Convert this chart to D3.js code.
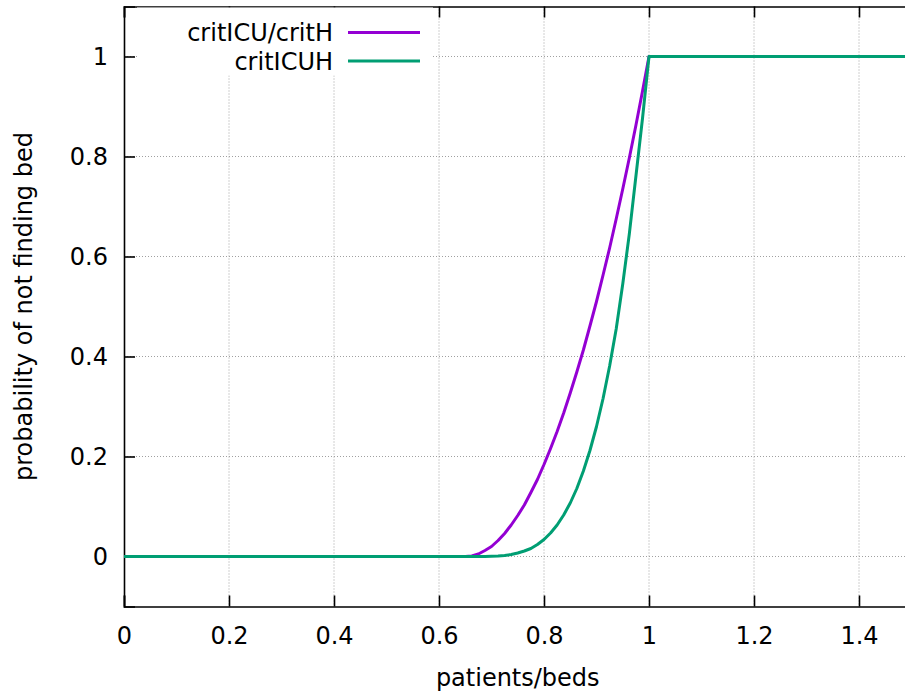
<!DOCTYPE html>
<html>
<head>
<meta charset="utf-8">
<script src="https://cdn.jsdelivr.net/npm/d3@7"></script>
<style>
  body { margin: 0; background: #fff; }
  text { font-family: "DejaVu Sans", sans-serif; fill: #000; }
</style>
</head>
<body>
<div id="chart"></div>
<script>
// values
var xValues = [0, 0.65, 0.6625, 0.675, 0.6875, 0.7, 0.7125, 0.725, 0.7375, 0.75, 0.7625, 0.775, 0.7875,
    0.8, 0.8125, 0.825, 0.8375, 0.85, 0.8625, 0.875, 0.8875, 0.9, 0.9125, 0.925, 0.9375,
    0.95, 0.9625, 0.975, 0.9875, 1.0, 1.5];
var critICUcritH = [0, 0, 0.001, 0.005, 0.012, 0.02, 0.032, 0.046, 0.063, 0.082, 0.103, 0.128, 0.154,
    0.184, 0.216, 0.25, 0.287, 0.327, 0.369, 0.413, 0.461, 0.51, 0.563, 0.617, 0.675,
    0.735, 0.797, 0.862, 0.93, 1, 1];
var critICUH = [0, 0, 0, 0, 0.0001, 0.0005, 0.001, 0.002, 0.004, 0.007, 0.011, 0.016, 0.024,
    0.034, 0.047, 0.063, 0.083, 0.107, 0.136, 0.171, 0.212, 0.26, 0.316, 0.381, 0.455,
    0.545, 0.645, 0.76, 0.875, 1, 1];
var xTicks = [0, 0.2, 0.4, 0.6, 0.8, 1, 1.2, 1.4];
var yTicks = [0, 0.2, 0.4, 0.6, 0.8, 1];

var svgWidth = 905;
var svgHeight = 698;

var margin = { top: 6.5, left: 124, plotRight: 911.5, bottom: 606.5 };

var svg = d3.select("#chart")
    .append("svg")
    .attr("width", svgWidth)
    .attr("height", svgHeight);

var xScale = d3.scaleLinear()
    .domain([0, 1.5])
    .range([margin.left, margin.plotRight]);

var yScale = d3.scaleLinear()
    .domain([-0.1, 1.1])
    .range([margin.bottom, margin.top]);

svg.append("clipPath")
    .attr("id", "plotClip")
    .append("rect")
    .attr("x", margin.left)
    .attr("y", margin.top)
    .attr("width", margin.plotRight - margin.left)
    .attr("height", margin.bottom - margin.top);

// grid
var grid = svg.append("g")
    .attr("stroke", "#a0a0a0")
    .attr("stroke-width", 1)
    .attr("stroke-dasharray", "1,2");

grid.selectAll("line.gx")
    .data(xTicks.filter(d => d > 0))
    .enter()
    .append("line")
    .attr("x1", d => xScale(d))
    .attr("x2", d => xScale(d))
    .attr("y1", margin.top)
    .attr("y2", margin.bottom);

grid.selectAll("line.gy")
    .data(yTicks)
    .enter()
    .append("line")
    .attr("x1", margin.left)
    .attr("x2", margin.plotRight)
    .attr("y1", d => yScale(d))
    .attr("y2", d => yScale(d));

// axes: ticks point inward
var bottomAxis = d3.axisBottom(xScale).tickValues(xTicks).tickSize(-11).tickPadding(20)
    .tickFormat(d3.format("~g"));
var topAxis = d3.axisTop(xScale).tickValues(xTicks).tickSize(-11).tickFormat("");
var leftAxis = d3.axisLeft(yScale).tickValues(yTicks).tickSize(-11).tickPadding(16)
    .tickFormat(d3.format("~g"));

function styleAxis(g) {
    g.select(".domain").attr("stroke", "#000").attr("stroke-width", 1.6);
    g.selectAll(".tick line").attr("stroke", "#000").attr("stroke-width", 1.6);
    g.selectAll(".tick text")
        .style("font-family", "DejaVu Sans, sans-serif")
        .style("font-size", "24px")
        .attr("fill", "#000");
}

svg.append("g")
    .attr("transform", `translate(0, ${margin.bottom})`)
    .call(bottomAxis)
    .call(styleAxis);

svg.append("g")
    .attr("transform", `translate(0, ${margin.top})`)
    .call(topAxis)
    .call(styleAxis);

svg.append("g")
    .attr("transform", `translate(${margin.left}, 0)`)
    .call(leftAxis)
    .call(styleAxis);

// legend box (opaque)
svg.append("rect")
    .attr("x", 137)
    .attr("y", margin.top + 1)
    .attr("width", 296)
    .attr("height", 68)
    .attr("fill", "#fff");

// curves
var line = d3.line()
    .x((d, i) => xScale(xValues[i]))
    .y(d => yScale(d));

var series = [
    { name: "critICU/critH", values: critICUcritH, color: "#9400d3" },
    { name: "critICUH", values: critICUH, color: "#009e73" }
];

svg.append("g")
    .attr("clip-path", "url(#plotClip)")
    .selectAll("path")
    .data(series)
    .enter()
    .append("path")
    .attr("d", d => line(d.values))
    .attr("fill", "none")
    .attr("stroke", d => d.color)
    .attr("stroke-width", 3)
    .attr("stroke-linejoin", "round");

// legend
var legend = svg.selectAll("g.legend")
    .data(series)
    .enter()
    .append("g")
    .attr("transform", (d, i) => `translate(0, ${32.5 + i * 28.5})`);

legend.append("text")
    .attr("x", 333)
    .attr("dy", "0.36em")
    .style("text-anchor", "end")
    .style("font-size", "24px")
    .text(d => d.name);

legend.append("line")
    .attr("x1", 348)
    .attr("x2", 420)
    .attr("stroke", d => d.color)
    .attr("stroke-width", 3);

// axis labels
svg.append("text")
    .attr("x", (margin.left + margin.plotRight) / 2)
    .attr("y", 686)
    .style("text-anchor", "middle")
    .style("font-size", "24px")
    .text("patients/beds");

svg.append("text")
    .attr("transform", `translate(32, ${(margin.top + margin.bottom) / 2}) rotate(-90)`)
    .style("text-anchor", "middle")
    .style("font-size", "24px")
    .text("probability of not finding bed");
</script>
</body>
</html>
